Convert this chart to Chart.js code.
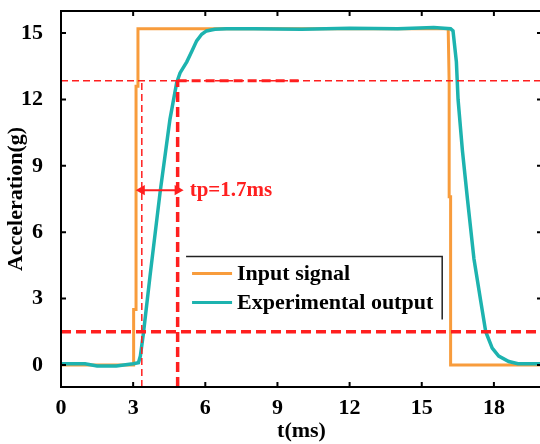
<!DOCTYPE html>
<html>
<head>
<meta charset="utf-8">
<script src="https://cdn.jsdelivr.net/npm/chart.js@4/dist/chart.umd.min.js"></script>
<style>
  html, body { margin: 0; padding: 0; background: #fff; overflow: hidden; }
  #chart { display: block; }
</style>
</head>
<body>
<canvas id="chart" width="548" height="444"></canvas>
<script>
// Step response data (t in ms, acceleration in g)
const inputT = [0, 3.02, 3.02, 3.12, 3.12, 3.2, 3.2, 16.1, 16.14, 16.14, 16.2, 16.2, 20];
const inputG = [0, 0, 2.5, 2.5, 12.6, 12.6, 15.2, 15.2, 12.7, 7.6, 7.6, 0, 0];

const outputT = [0, 1.0, 1.5, 2.3, 3.0, 3.22, 3.3, 3.43, 3.7, 4.12, 4.53, 4.81, 4.95, 5.23, 5.45, 5.64, 5.85, 6.05, 6.4, 6.88, 8, 10, 12, 14, 15.5, 16.2, 16.3, 16.44, 16.51, 16.69, 16.9, 17.17, 17.45, 17.66, 17.93, 18.2, 18.62, 19, 20];
const outputG = [0.05, 0.05, -0.05, -0.05, 0.05, 0.1, 0.4, 1.45, 4.0, 7.8, 11.1, 12.76, 13.2, 13.7, 14.2, 14.65, 14.95, 15.1, 15.17, 15.2, 15.2, 15.18, 15.22, 15.2, 15.25, 15.2, 15.1, 13.7, 12.0, 9.7, 7.5, 4.8, 2.9, 1.5, 0.76, 0.4, 0.15, 0.05, 0.05];

// Reference markers
const levelHigh = 12.85;     // 85% level
const levelLow = 1.5;        // 10% level
const tpStart = 3.36;
const tpEnd = 4.85;
const tpBoldEnd = 9.9;
const arrowLevel = 7.9;
const tpLabel = 'tp=1.7ms';

const xTicks = [0, 3, 6, 9, 12, 15, 18];
const yTicks = [0, 3, 6, 9, 12, 15];

const ORANGE = '#f89c3c';
const TEAL = '#1db3af';
const RED = '#ff1f1f';
const SERIF = '"Liberation Serif", "Times New Roman", serif';

const pts = (xs, ys) => xs.map((x, i) => ({ x: x, y: ys[i] }));

function dashLine(data, width, dash) {
    return {
        data: data,
        borderColor: RED,
        borderWidth: width,
        borderDash: dash,
        pointRadius: 0,
        fill: false,
        order: 0
    };
}

// frame, inward ticks, annotation text and the legend box
const decorPlugin = {
    id: 'decor',
    afterDraw(chart) {
        const ctx = chart.ctx;
        const a = chart.chartArea;
        const xs = chart.scales.x;
        const ys = chart.scales.y;

        ctx.save();
        ctx.strokeStyle = '#000';
        ctx.lineWidth = 2;
        ctx.strokeRect(a.left, a.top, a.right - a.left, a.bottom - a.top);

        ctx.lineWidth = 2;
        ctx.beginPath();
        xTicks.forEach(v => {
            const px = xs.getPixelForValue(v);
            ctx.moveTo(px, a.bottom); ctx.lineTo(px, a.bottom - 5);
            ctx.moveTo(px, a.top); ctx.lineTo(px, a.top + 5);
        });
        yTicks.forEach(v => {
            const py = ys.getPixelForValue(v);
            ctx.moveTo(a.left, py); ctx.lineTo(a.left + 5, py);
            ctx.moveTo(a.right, py); ctx.lineTo(a.right - 5, py);
        });
        ctx.stroke();

        // tp label
        ctx.fillStyle = RED;
        ctx.font = 'bold 21px ' + SERIF;
        ctx.textBaseline = 'middle';
        ctx.textAlign = 'left';
        ctx.fillText(tpLabel, xs.getPixelForValue(tpEnd) + 12, ys.getPixelForValue(arrowLevel));

        // legend (only the top and right edges of its box are drawn)
        const lx0 = xs.getPixelForValue(5.2);
        const lx1 = xs.getPixelForValue(15.85);
        const ly0 = ys.getPixelForValue(4.9);
        const ly1 = ys.getPixelForValue(2.05);
        ctx.strokeStyle = '#222';
        ctx.lineWidth = 1.5;
        ctx.beginPath();
        ctx.moveTo(lx0, ly0); ctx.lineTo(lx1, ly0); ctx.lineTo(lx1, ly1);
        ctx.stroke();

        const items = [['Input signal', ORANGE], ['Experimental output', TEAL]];
        items.forEach((it, i) => {
            const yy = ly0 + 17 + i * 29;
            ctx.strokeStyle = it[1];
            ctx.lineWidth = 3;
            ctx.beginPath();
            ctx.moveTo(lx0 + 6, yy); ctx.lineTo(lx0 + 46, yy);
            ctx.stroke();
            ctx.fillStyle = '#000';
            ctx.font = 'bold 22px ' + SERIF;
            ctx.fillText(it[0], lx0 + 51, yy + 1);
        });
        ctx.restore();
    }
};

new Chart(document.getElementById('chart'), {
    type: 'line',
    data: {
        datasets: [
            dashLine(pts([0, 20], [levelHigh, levelHigh]), 1.5, [7, 4]),
            dashLine(pts([tpEnd, tpBoldEnd], [levelHigh, levelHigh]), 3, [9, 5]),
            dashLine(pts([tpStart, tpStart], [-1, levelHigh]), 1.5, [7, 4]),
            dashLine(pts([tpEnd, tpEnd], [-1, levelHigh]), 3.5, [10, 5]),
            dashLine(pts([0, 20], [levelLow, levelLow]), 3.5, [10, 5]),
            {
                data: pts([tpStart, tpEnd], [arrowLevel, arrowLevel]),
                borderColor: RED,
                backgroundColor: RED,
                borderWidth: 2,
                pointStyle: 'triangle',
                pointRadius: 4,
                pointRotation: [270, 90],
                order: 0
            },
            {
                label: 'Experimental output',
                data: pts(outputT, outputG),
                borderColor: TEAL,
                borderWidth: 3.5,
                pointRadius: 0,
                order: 1
            },
            {
                label: 'Input signal',
                data: pts(inputT, inputG),
                borderColor: ORANGE,
                borderWidth: 3,
                pointRadius: 0,
                order: 2
            }
        ]
    },
    options: {
        responsive: false,
        animation: false,
        events: [],
        layout: { padding: { top: 11, right: 5, left: 0, bottom: 0 } },
        plugins: { legend: { display: false }, tooltip: { enabled: false } },
        elements: { line: { tension: 0 } },
        scales: {
            x: {
                type: 'linear',
                min: 0,
                max: 20,
                afterBuildTicks: s => { s.ticks = xTicks.map(v => ({ value: v })); },
                afterFit: s => { s.height = 57; s.paddingLeft = 0; s.paddingRight = 0; },
                grid: { display: false },
                border: { display: false },
                ticks: { color: '#000', padding: 0, font: { family: SERIF, size: 22, weight: 'bold' } },
                title: {
                    display: true,
                    text: 't(ms)',
                    color: '#000',
                    padding: { top: 0, bottom: -1 },
                    font: { family: SERIF, size: 22, weight: 'bold' }
                }
            },
            y: {
                min: -1,
                max: 16,
                afterBuildTicks: s => { s.ticks = yTicks.map(v => ({ value: v })); },
                afterFit: s => { s.width = 61; s.paddingTop = 0; s.paddingBottom = 0; },
                grid: { display: false },
                border: { display: false },
                ticks: { color: '#000', padding: 10, font: { family: SERIF, size: 22, weight: 'bold' } },
                title: {
                    display: true,
                    text: 'Acceleration(g)',
                    color: '#000',
                    padding: { top: 3, bottom: 0 },
                    font: { family: SERIF, size: 22, weight: 'bold' }
                }
            }
        }
    },
    plugins: [decorPlugin]
});
</script>
</body>
</html>
